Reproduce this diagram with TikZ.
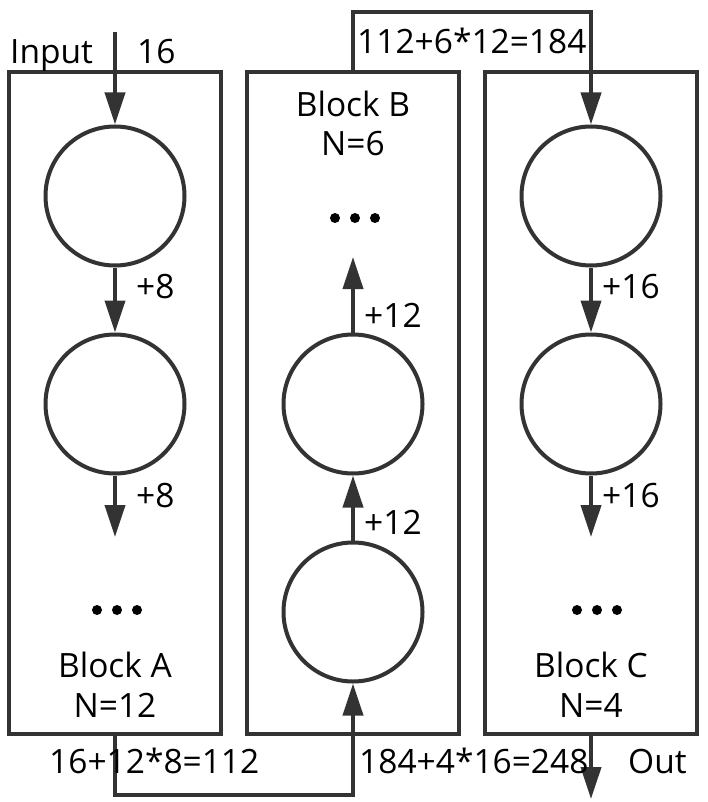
\documentclass[tikz,border=0pt]{standalone}
\usepackage{fontspec}
\setmainfont{Open Sans}
\usetikzlibrary{arrows.meta}
\definecolor{ln}{HTML}{333333}
\begin{document}
\begin{tikzpicture}[x=1pt,y=-1pt,
  box/.style={draw=ln, line width=4pt, rectangle, minimum width=211.5pt, minimum height=662pt, inner sep=0pt},
  cell/.style={draw=ln, line width=4pt, circle, minimum size=139pt, inner sep=0pt},
  link/.style={draw=ln, line width=4pt},
  flow/.style={link, -{Triangle[width=20pt,length=32pt]}},
  txt/.style={font=\fontsize{33.5}{40}\selectfont, inner sep=0pt, text=black},
  lbl/.style={txt, anchor=base west},
  ctr/.style={txt, anchor=base},
  dotn/.style={circle, fill=black, minimum size=10pt, inner sep=0pt}]
\useasboundingbox (0,0) rectangle (708,802);
\fill[white] (0,0) rectangle (708,802);
% blocks
\node[box] (boxA) at (115,403) {};
\node[box] (boxB) at (352.75,403) {};
\node[box] (boxC) at (590.75,403) {};
% cells
\node[cell] (a1) at (115,196) {};
\node[cell] (a2) at (115,404) {};
\node[cell] (b2) at (353,404) {};
\node[cell] (b1) at (353,612) {};
\node[cell] (c1) at (591,196) {};
\node[cell] (c2) at (591,404) {};
% free ends
\coordinate (inp) at (115,32);
\coordinate (aend) at (115,537);
\coordinate (bend) at (353,257);
\coordinate (cend) at (591,537);
\coordinate (topL) at (353,12.5);
\coordinate (topR) at (591,12.5);
\coordinate (botL) at (115,795);
\coordinate (botR) at (353,795);
\coordinate (outp) at (591,799);
% block A
\draw[flow] (inp) -- (a1.north);
\draw[flow] (a1.south) -- (a2.north);
\draw[flow] (a2.south) -- (aend);
% block B
\draw[flow] (b1.north) -- (b2.south);
\draw[flow] (b2.north) -- (bend);
% block C
\draw[flow] (c1.south) -- (c2.north);
\draw[flow] (c2.south) -- (cend);
% between blocks
\draw[flow] (boxB.north -| b2.center) -- (topL) -- (topR) -- (c1.north);
\draw[flow] (boxA.south -| a1.center) -- (botL) -- (botR) -- (b1.south);
\draw[flow] (boxC.south -| c1.center) -- (outp);
% dots
\foreach \i/\x in {1/97,2/117,3/137}{\node[dotn] (ad\i) at (\x,610) {};}
\foreach \i/\x in {1/335,2/355,3/375}{\node[dotn] (bd\i) at (\x,218) {};}
\foreach \i/\x in {1/577,2/597,3/617}{\node[dotn] (cd\i) at (\x,610) {};}
% texts
\node[lbl] (tin) at (10,64) {Input};
\node[lbl] (t16) at (137,64) {16};
\node[lbl] (ttop) at (357,54) {112+6*12=184};
\node[ctr] (tbb) at (353,117) {Block B};
\node[ctr] (tnb) at (353,156) {N=6};
\node[lbl] (ta1) at (136,298) {+8};
\node[lbl] (ta2) at (136,507) {+8};
\node[lbl] (tb1) at (364,327) {+12};
\node[lbl] (tb2) at (364,534) {+12};
\node[lbl] (tc1) at (602,298) {+16};
\node[lbl] (tc2) at (602,507) {+16};
\node[ctr] (tba) at (115,677) {Block A};
\node[ctr] (tna) at (115,717) {N=12};
\node[ctr] (tbc) at (591,677) {Block C};
\node[ctr] (tnc) at (591,717) {N=4};
\node[lbl] (tbl) at (49,773) {16+12*8=112};
\node[lbl] (tbr) at (359,773) {184+4*16=248};
\node[lbl] (tout) at (628,773) {Out};
\end{tikzpicture}
\end{document}
